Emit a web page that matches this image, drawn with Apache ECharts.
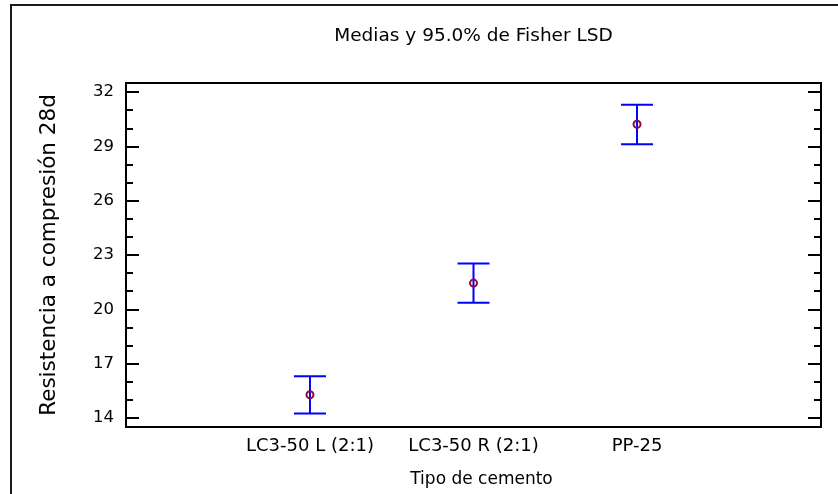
<!DOCTYPE html>
<html><head><meta charset="utf-8">
<script src="https://cdn.jsdelivr.net/npm/echarts@6/dist/echarts.min.js"></script>
<style>html,body{margin:0;padding:0;background:#fff}#c{width:838px;height:494px}</style>
</head><body><div id="c"></div>
<script>
// ---- data ----
const categories = ['LC3-50 L (2:1)', 'LC3-50 R (2:1)', 'PP-25'];
const xPositions = [0, 1, 2];
const means = [15.28, 21.45, 30.22];
const lowerLimits = [14.24, 20.36, 29.12];
const upperLimits = [16.30, 22.53, 31.30];
const yMajorTicks = [14, 17, 20, 23, 26, 29, 32];
const yMinorTicks = [14, 15, 16, 17, 18, 19, 20, 21, 22, 23, 24, 25, 26, 27, 28, 29, 30, 31, 32];
const titleText = 'Medias y 95.0% de Fisher LSD';
const xTitle = 'Tipo de cemento';
const yTitle = 'Resistencia a compresión 28d';

const FONT = 'DejaVu Sans';
const TXT = '#000';
const chart = echarts.init(document.getElementById('c'), null, {renderer: 'canvas'});

function yAxisDef(position, ticks, len, showLabel, extra) {
  return Object.assign({
    type: 'value', position: position, min: 13.5, max: 32.5,
    splitLine: {show: false},
    axisLine: {show: true, onZero: false, lineStyle: {color: '#000', width: 2}},
    axisTick: {show: true, inside: true, length: len, customValues: ticks, lineStyle: {color: '#000', width: 2}},
    axisLabel: {show: showLabel, customValues: yMajorTicks, margin: 12, color: TXT, fontFamily: FONT, fontSize: 16.5},
  }, extra || {});
}

const option = {
  backgroundColor: '#fff',
  animation: false,
  title: {
    text: titleText, left: 473.5, top: 27, textAlign: 'center', padding: 0,
    textStyle: {fontFamily: FONT, fontSize: 18.5, fontWeight: 'normal', color: TXT}
  },
  graphic: [{
    type: 'rect', silent: true,
    shape: {x: 11, y: 5, width: 840, height: 520},
    style: {fill: null, stroke: '#1a1a1a', lineWidth: 2}
  }],
  grid: {left: 126, right: 17, top: 83, bottom: 67, show: true, borderColor: '#000', borderWidth: 2, backgroundColor: 'transparent'},
  xAxis: {
    type: 'value', min: -1.125, max: 3.125,
    splitLine: {show: false},
    axisLine: {show: true, onZero: false, lineStyle: {color: '#000', width: 2}},
    axisTick: {show: false},
    axisLabel: {
      customValues: xPositions, margin: 10, color: TXT, fontFamily: FONT, fontSize: 18,
      formatter: function (v) { const i = xPositions.indexOf(Math.round(v)); return i >= 0 ? categories[i] : ''; }
    },
    name: xTitle, nameLocation: 'middle', nameGap: 44,
    nameTextStyle: {fontFamily: FONT, fontSize: 17, color: TXT, padding: [0, 0, 0, 16]}
  },
  yAxis: [
    yAxisDef('left', yMajorTicks, 13, true, {
      name: yTitle, nameLocation: 'middle', nameGap: 66, nameRotate: 90,
      nameTextStyle: {fontFamily: FONT, fontSize: 21.5, color: TXT}
    }),
    yAxisDef('left', yMinorTicks, 7, false),
    yAxisDef('right', yMajorTicks, 13, false),
    yAxisDef('right', yMinorTicks, 7, false)
  ],
  series: [
    {
      type: 'custom', xAxisIndex: 0, yAxisIndex: 0, z: 2,
      data: xPositions.map(function (x, i) { return [x, lowerLimits[i], upperLimits[i]]; }),
      renderItem: function (params, api) {
        const x = api.value(0);
        const pLo = api.coord([x, api.value(1)]);
        const pHi = api.coord([x, api.value(2)]);
        const hw = 16;
        const st = {stroke: '#0000ff', lineWidth: 2, fill: null};
        return {type: 'group', children: [
          {type: 'line', shape: {x1: pLo[0], y1: pLo[1], x2: pHi[0], y2: pHi[1]}, style: st},
          {type: 'line', shape: {x1: pLo[0] - hw, y1: pLo[1], x2: pLo[0] + hw, y2: pLo[1]}, style: st},
          {type: 'line', shape: {x1: pHi[0] - hw, y1: pHi[1], x2: pHi[0] + hw, y2: pHi[1]}, style: st}
        ]};
      }
    },
    {
      type: 'scatter', xAxisIndex: 0, yAxisIndex: 0, z: 3,
      data: xPositions.map(function (x, i) { return [x, means[i]]; }),
      symbol: 'circle', symbolSize: 7,
      itemStyle: {color: 'rgba(0,0,0,0)', borderColor: '#8b0a45', borderWidth: 2, opacity: 1}
    }
  ]
};
chart.setOption(option);
</script>
</body></html>
